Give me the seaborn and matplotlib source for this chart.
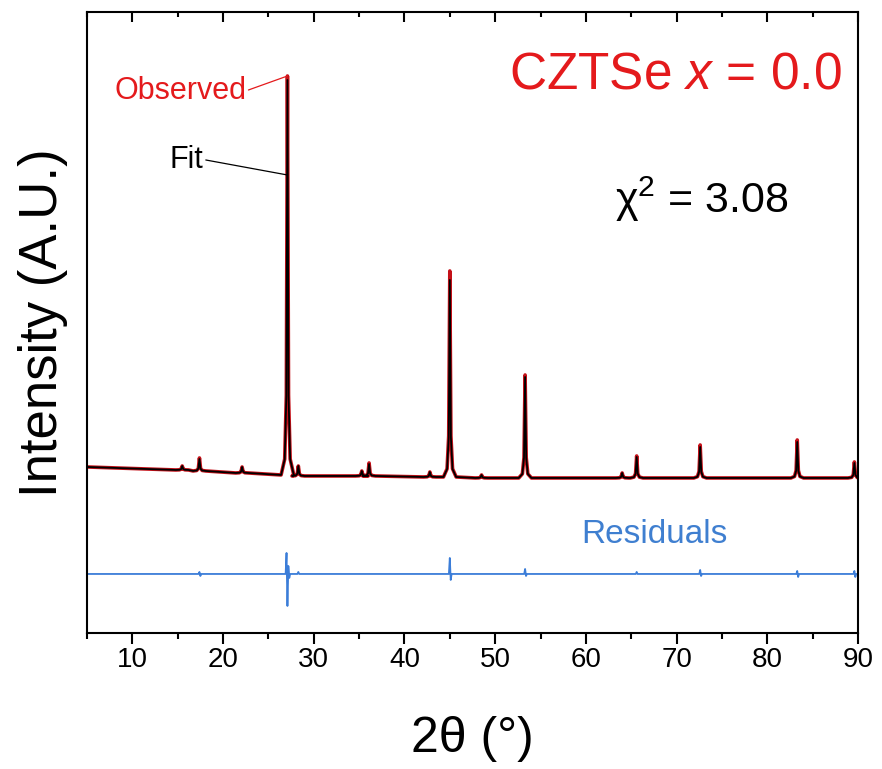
import numpy as np
import pandas as pd
import matplotlib
matplotlib.use("Agg")
import matplotlib.pyplot as plt
import seaborn as sns
from matplotlib.ticker import MultipleLocator

# ---------------- data (arbitrary units) ----------------
peak_pos   = [15.5, 17.4, 22.1, 27.1, 28.3, 35.3, 36.1, 42.8, 45.0, 48.5, 53.3, 64.0, 65.6, 72.6, 83.3, 89.6]
peak_base  = [163, 162, 160, 158, 157, 157, 157, 156, 156, 155, 155, 155, 155, 155, 155, 155]
fit_top    = [167, 174, 166, 553, 167, 162, 169, 161, 353, 158, 256, 160, 176, 186, 191, 170]
obs_top    = [167, 175, 166, 557, 167, 162, 170, 161, 362, 158, 258, 160, 177, 188, 193, 171]
start_pt   = (5.0, 166)
end_pt     = (90.0, 155)

res_x = [5.0, 17.3, 17.4, 17.5, 17.6,
         26.9, 27.0, 27.1, 27.2, 27.3, 27.4,
         28.2, 28.3, 28.4,
         44.9, 45.0, 45.1, 45.2,
         53.2, 53.3, 53.4, 53.5,
         65.5, 65.6, 65.7,
         72.5, 72.6, 72.7, 72.8,
         83.2, 83.3, 83.4, 83.5,
         89.5, 89.6, 89.7, 89.8, 90.0]
res_v = [0, 0, 2, -2, 0,
         0, 21, -32, 8, -4, 0,
         0, 2, 0,
         0, 16, -6, 0,
         0, 5, -2, 0,
         0, 2, 0,
         0, 4, -2, 0,
         0, 3, -3, 0,
         0, 3, -3, 0, 0]
res_offset = 59

# ---------------- build profile vertices ----------------
tmpl_dx = [-0.7, -0.3, -0.12, 0.0, 0.12, 0.3, 0.7]
tmpl_f  = [0.0, 0.04, 0.2, 1.0, 0.2, 0.04, 0.0]

def profile(tops):
    xs, ys = [start_pt[0]], [start_pt[1]]
    for p, b, t in zip(peak_pos, peak_base, tops):
        for dx, f in zip(tmpl_dx, tmpl_f):
            xs.append(p + dx)
            ys.append(b + f * (t - b))
    xs.append(end_pt[0]); ys.append(end_pt[1])
    return xs, ys

fx, fy = profile(fit_top)
ox, oy = profile(obs_top)
obs_df = pd.DataFrame({"two_theta": ox, "intensity": oy})
fit_df = pd.DataFrame({"two_theta": fx, "intensity": fy})
res_df = pd.DataFrame({"two_theta": res_x, "intensity": np.array(res_v) + res_offset})

# ---------------- plot ----------------
sns.set_theme(style="white")
plt.rcParams["font.family"] = ["Liberation Sans", "DejaVu Sans"]
plt.rcParams["mathtext.fontset"] = "custom"
plt.rcParams["mathtext.rm"] = "Liberation Sans"
plt.rcParams["mathtext.it"] = "Liberation Sans:italic"
plt.rcParams["text.color"] = "black"
plt.rcParams["axes.labelcolor"] = "black"
plt.rcParams["xtick.color"] = "black"

fig = plt.figure(figsize=(8.82, 7.69), dpi=100)
ax = fig.add_axes([0.0986, 0.1769, 0.9728 - 0.0986, 0.9844 - 0.1769])

red = "#e41a1c"
sns.lineplot(data=obs_df, x="two_theta", y="intensity", ax=ax, color="#c41018",
             lw=2.6, estimator=None, sort=False)
sns.lineplot(data=fit_df, x="two_theta", y="intensity", ax=ax, color="black",
             lw=1.3, estimator=None, sort=False)
sns.lineplot(data=res_df, x="two_theta", y="intensity", ax=ax, color="#3b7dd8",
             lw=1.3, estimator=None, sort=False)

ax.set_xlim(5, 90)
ax.set_ylim(0, 621)
ax.xaxis.set_major_locator(MultipleLocator(10))
ax.xaxis.set_minor_locator(MultipleLocator(5))
ax.set_yticks([])
ax.tick_params(axis="x", which="major", direction="out", length=8, width=1.5, bottom=True,
               top=False, labelsize=20, pad=2, labelcolor="black", color="black")
ax.tick_params(axis="x", which="minor", direction="out", length=4, width=1.5, bottom=True,
               top=False, color="black")

# inward ticks along the top spine, at the locator's tick positions
xt = ax.get_xaxis_transform()
major_locs = ax.xaxis.get_majorticklocs()
minor_locs = ax.xaxis.get_minorticklocs()
major_locs = major_locs[(major_locs >= 5) & (major_locs <= 90)]
minor_locs = minor_locs[(minor_locs >= 5) & (minor_locs <= 90)]
ax.vlines(major_locs, 0.984, 1.0, transform=xt, colors="black", lw=1.5,
          clip_on=False, zorder=6)
ax.vlines(minor_locs, 0.992, 1.0, transform=xt, colors="black", lw=1.5,
          clip_on=False, zorder=6)

for s in ax.spines.values():
    s.set_visible(True)
    s.set_linewidth(1.5)
    s.set_color("black")

ax.set_xlabel("2θ (°)", fontsize=36, labelpad=31)
ax.set_ylabel("Intensity (A.U.)", fontsize=38, labelpad=14)

# annotations
ax.text(22.6, 542, "Observed", color=red, fontsize=22, ha="right", va="center")
ax.plot([22.8, 27.1], [543, 557], color=red, lw=0.9)
ax.text(17.8, 473, "Fit", color="black", fontsize=22, ha="right", va="center")
ax.plot([18.1, 27.1], [473, 458], color="black", lw=0.9)

ax.text(88.2, 558, r"CZTSe $\it{x}$ = 0.0", color=red, fontsize=37, ha="right", va="center")
ax.text(63.2, 420, "χ$^{2}$ = 3.08", color="black", fontsize=31, ha="left", va="baseline")
ax.text(67.6, 98, "Residuals", color="#3f7fd0", fontsize=24, ha="center", va="center")

fig.savefig("out.png", dpi=100)
